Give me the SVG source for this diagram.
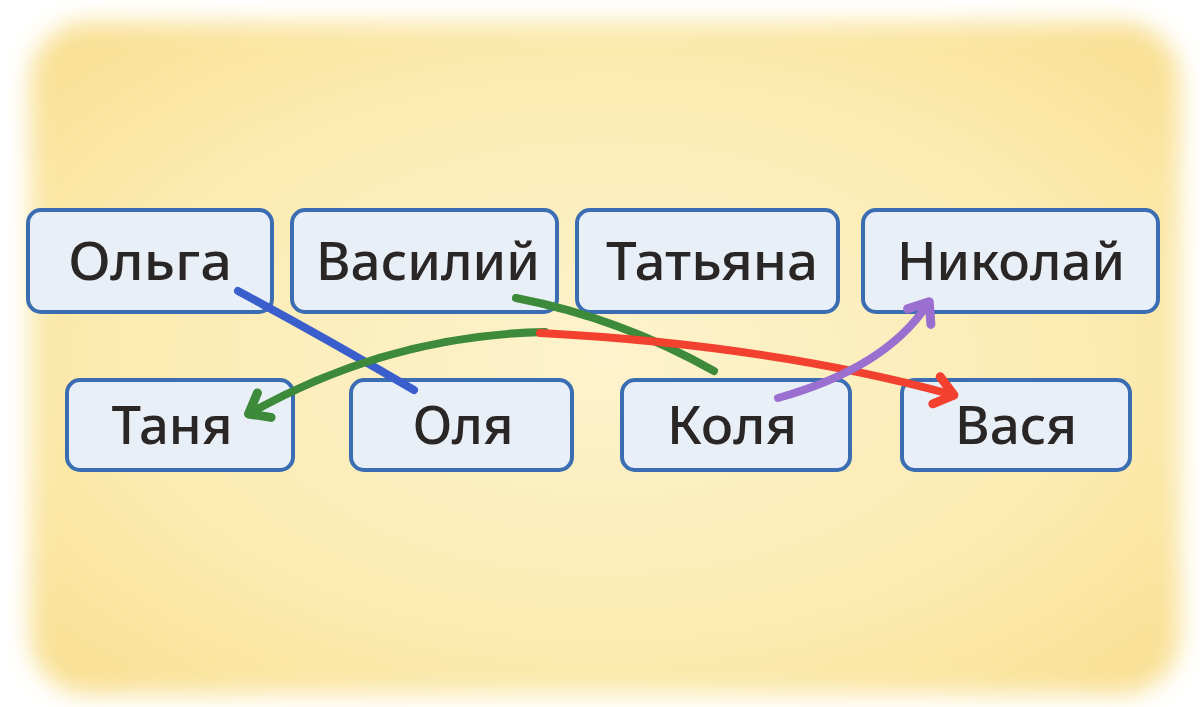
<svg xmlns="http://www.w3.org/2000/svg" width="1200" height="707" viewBox="0 0 1200 707">
<style>
.box{fill:#e9eff7;stroke:#3b6db3;stroke-width:4}
.lbl{font-family:"Noto Sans","Open Sans",sans-serif;font-size:53px;font-weight:500;fill:#2b2626;text-anchor:middle}
.con{fill:none;stroke-width:8;stroke-linecap:round;stroke-linejoin:round}
</style>
<defs>
<filter id="blur" x="-10%" y="-10%" width="120%" height="120%"><feGaussianBlur stdDeviation="12"/></filter>
<radialGradient id="bg" cx="0.5" cy="0.5" r="0.7">
<stop offset="0" stop-color="#fdf3cc"/>
<stop offset="0.6" stop-color="#fcebb2"/>
<stop offset="1" stop-color="#f8de8e"/>
</radialGradient>
<marker id="ahG" viewBox="0 0 20 20" refX="10" refY="10" markerWidth="5" markerHeight="5" orient="auto" markerUnits="strokeWidth"><path d="M3,3 L12,10 L3,17" fill="none" stroke="#3d8a3b" stroke-width="4.5" stroke-linecap="round" stroke-linejoin="round"/></marker>
<marker id="ahR" viewBox="0 0 20 20" refX="10" refY="10" markerWidth="5" markerHeight="5" orient="auto" markerUnits="strokeWidth"><path d="M3,3 L12,10 L3,17" fill="none" stroke="#f2422f" stroke-width="4.5" stroke-linecap="round" stroke-linejoin="round"/></marker>
<marker id="ahP" viewBox="0 0 20 20" refX="10" refY="10" markerWidth="5" markerHeight="5" orient="auto" markerUnits="strokeWidth"><path d="M3,3 L12,10 L3,17" fill="none" stroke="#9b6fcf" stroke-width="4.5" stroke-linecap="round" stroke-linejoin="round"/></marker>
</defs>
<rect width="1200" height="707" fill="#ffffff"/>
<rect x="30" y="22" width="1150" height="672" rx="60" fill="url(#bg)" filter="url(#blur)"/>
<g id="node-olga"><rect class="box" x="28" y="210" width="244" height="102" rx="13"/><text class="lbl" x="150" y="280" textLength="164" lengthAdjust="spacingAndGlyphs">Ольга</text></g>
<g id="node-vasiliy"><rect class="box" x="292" y="210" width="265" height="102" rx="13"/><text class="lbl" x="428" y="280" textLength="224" lengthAdjust="spacingAndGlyphs">Василий</text></g>
<g id="node-tatyana"><rect class="box" x="577" y="210" width="261" height="102" rx="13"/><text class="lbl" x="712" y="280" textLength="212" lengthAdjust="spacingAndGlyphs">Татьяна</text></g>
<g id="node-nikolay"><rect class="box" x="863" y="210" width="295" height="102" rx="13"/><text class="lbl" x="1011" y="280" textLength="228" lengthAdjust="spacingAndGlyphs">Николай</text></g>
<g id="node-tanya"><rect class="box" x="67" y="380" width="226" height="90" rx="13"/><text class="lbl" x="172" y="444" textLength="121" lengthAdjust="spacingAndGlyphs">Таня</text></g>
<g id="node-olya"><rect class="box" x="351" y="380" width="221" height="90" rx="13"/><text class="lbl" x="463" y="444" textLength="101" lengthAdjust="spacingAndGlyphs">Оля</text></g>
<g id="node-kolya"><rect class="box" x="622" y="380" width="228" height="90" rx="13"/><text class="lbl" x="732" y="444" textLength="130" lengthAdjust="spacingAndGlyphs">Коля</text></g>
<g id="node-vasya"><rect class="box" x="902" y="380" width="228" height="90" rx="13"/><text class="lbl" x="1016" y="444" textLength="122" lengthAdjust="spacingAndGlyphs">Вася</text></g>
<g id="connectors">
<path class="con" stroke="#3a5fcc" d="M238,291 Q320,335 414,390"/>
<path class="con" stroke="#3d8a3b" d="M516,298 Q620,318 714,371"/>
<path class="con" stroke="#3d8a3b" d="M545,332 Q390,335 252,412" marker-end="url(#ahG)"/>
<path class="con" stroke="#f2422f" d="M540,333 Q770,345 950,394" marker-end="url(#ahR)"/>
<path class="con" stroke="#9b6fcf" d="M778,398 Q885,368 927,305" marker-end="url(#ahP)"/>
</g>
</svg>
